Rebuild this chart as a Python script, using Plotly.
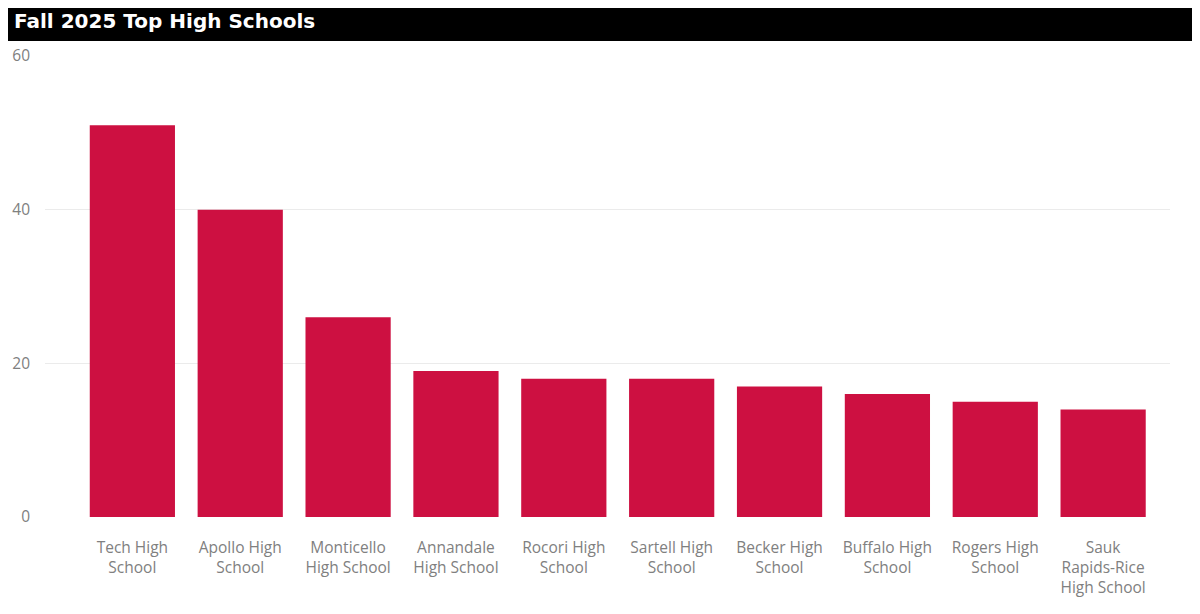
import plotly.graph_objects as go

schools = [
    "Tech High<br>School",
    "Apollo High<br>School",
    "Monticello<br>High School",
    "Annandale<br>High School",
    "Rocori High<br>School",
    "Sartell High<br>School",
    "Becker High<br>School",
    "Buffalo High<br>School",
    "Rogers High<br>School",
    "Sauk<br>Rapids-Rice<br>High School",
]
counts = [51, 40, 26, 19, 18, 18, 17, 16, 15, 14]
y_ticks = [0, 20, 40, 60]
title_text = "Fall 2025 Top High Schools"

W, H = 1200, 614
OFF = 8  # page offset of the figure inside the browser window
L, R, T, B = 45 - OFF, 30 + OFF, 56 - OFF, 97 + OFF
pw, ph = W - L - R, H - T - B

def px_x(x):
    return (x - OFF - L) / pw

def px_y(y):
    return (H - B - (y - OFF)) / ph

fig = go.Figure(
    go.Bar(
        x=list(range(len(schools))),
        y=counts,
        marker=dict(color="#CD1041", line=dict(width=0)),
        hoverinfo="skip",
    )
)

fig.update_layout(
    width=W,
    height=H,
    margin=dict(l=L, r=R, t=T, b=B, autoexpand=False),
    paper_bgcolor="white",
    plot_bgcolor="white",
    bargap=0.21,
    showlegend=False,
    font=dict(family="Open Sans", size=16, color="#808080"),
    xaxis=dict(
        tickmode="array",
        tickvals=list(range(len(schools))),
        ticktext=schools,
        range=[-0.81, 9.62],
        showgrid=False,
        zeroline=False,
        showline=False,
        ticks="",
        automargin=False,
        ticklabelstandoff=19,
        tickfont=dict(family="Open Sans", size=15.5, color="#808080"),
    ),
    yaxis=dict(
        range=[0, 60],
        tickvals=y_ticks,
        showgrid=True,
        gridcolor="#EBEBEB",
        gridwidth=1,
        zeroline=False,
        showline=False,
        ticks="",
        automargin=False,
        ticklabelstandoff=14,
        tickfont=dict(family="Open Sans", size=15.5, color="#808080"),
    ),
    shapes=[
        dict(
            type="rect",
            xref="paper",
            yref="paper",
            x0=px_x(5),
            x1=px_x(1196),
            y0=px_y(41),
            y1=px_y(4),
            fillcolor="black",
            line=dict(width=0),
            layer="above",
        )
    ],
    annotations=[
        dict(
            text=title_text,
            xref="paper",
            yref="paper",
            x=px_x(12),
            y=px_y(21),
            xanchor="left",
            yanchor="middle",
            showarrow=False,
            font=dict(family="DejaVu Sans", size=20, color="white", weight="bold"),
        )
    ],
)

fig.write_html("out.html")
